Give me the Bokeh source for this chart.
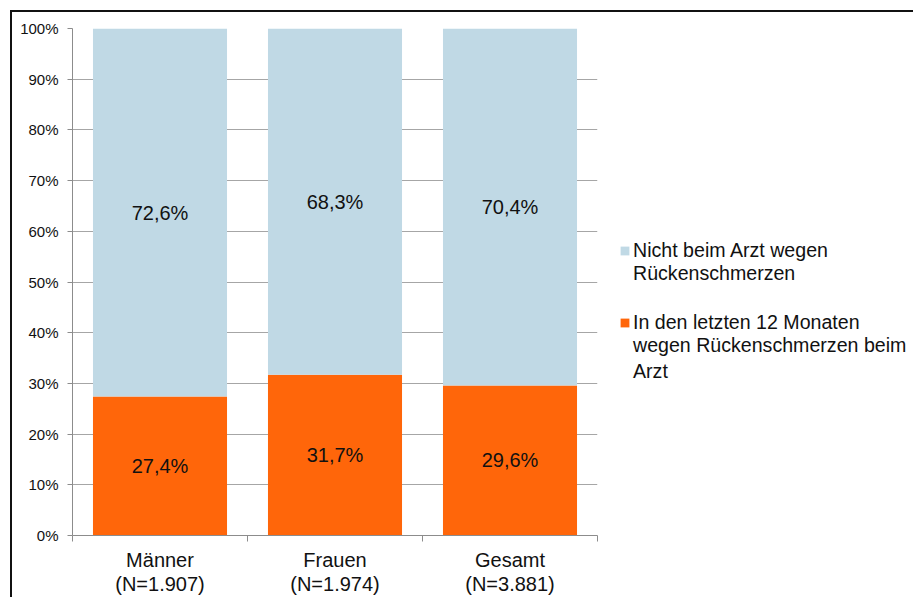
from bokeh.plotting import figure
from bokeh.models import (Range1d, FixedTicker, PrintfTickFormatter, Legend, LegendItem,
                          ColumnDataSource)
from bokeh.core.properties import value
from bokeh.embed import file_html
from bokeh.resources import INLINE

categories = ["Männer\n(N=1.907)", "Frauen\n(N=1.974)", "Gesamt\n(N=3.881)"]
arzt = [27.4, 31.7, 29.6]          # In den letzten 12 Monaten wegen Rückenschmerzen beim Arzt
nicht_arzt = [72.6, 68.3, 70.4]    # Nicht beim Arzt wegen Rückenschmerzen
series_labels = ["Nicht beim Arzt wegen\nRückenschmerzen",
                 "In den letzten 12 Monaten\nwegen Rückenschmerzen beim\nArzt"]
y_ticks = [0, 10, 20, 30, 40, 50, 60, 70, 80, 90, 100]

ORANGE = "#FF660A"
BLUE = "#C0D9E5"
FONT = "Liberation Sans"

xs = [i + 0.5 for i in range(len(categories))]
src = ColumnDataSource(dict(
    x=xs, arzt=arzt, nicht=nicht_arzt,
    top=[a + n for a, n in zip(arzt, nicht_arzt)],
    y_arzt=[a / 2 for a in arzt],
    y_nicht=[a + n / 2 for a, n in zip(arzt, nicht_arzt)],
    t_arzt=[f"{a:.1f}".replace(".", ",") + "%" for a in arzt],
    t_nicht=[f"{n:.1f}".replace(".", ",") + "%" for n in nicht_arzt],
))

p = figure(frame_width=525, frame_height=507, output_backend="svg", toolbar_location=None,
           x_range=Range1d(0, len(categories)), y_range=Range1d(0, 100),
           min_border_left=60, min_border_right=300, min_border_top=16, min_border_bottom=40)
p.styles = {"border-top": "2px solid #111", "border-left": "2px solid #111",
            "margin-top": "10px", "margin-left": "10px"}
p.outline_line_color = None
p.background_fill_color = "white"
p.border_fill_color = "white"

r_arzt = p.vbar(x="x", bottom=0, top="arzt", width=0.766, source=src,
                fill_color=ORANGE, line_color=None)
r_nicht = p.vbar(x="x", bottom="arzt", top="top", width=0.766, source=src,
                 fill_color=BLUE, line_color=None)
# invisible renderer for continuation lines of wrapped legend labels
r_blank = p.vbar(x=[], top=[], width=0.5, fill_alpha=0, line_alpha=0)

p.text(x="x", y="y_arzt", text="t_arzt", source=src, text_align="center",
       text_baseline="middle", text_font=value(FONT), text_font_size="20px", text_color="#111")
p.text(x="x", y="y_nicht", text="t_nicht", source=src, text_align="center",
       text_baseline="middle", text_font=value(FONT), text_font_size="20px", text_color="#111")

# y axis
p.yaxis.ticker = FixedTicker(ticks=y_ticks)
p.yaxis.formatter = PrintfTickFormatter(format="%d%%")
p.yaxis.axis_line_color = "#8c8c8c"
p.yaxis.major_tick_line_color = "#8c8c8c"
p.yaxis.major_tick_out = 5
p.yaxis.major_tick_in = 0
p.yaxis.minor_tick_line_color = None
p.yaxis.major_label_standoff = 9
p.yaxis.major_label_text_font = FONT
p.yaxis.major_label_text_font_size = "15px"
p.yaxis.major_label_text_color = "#111"

# x axis
p.xaxis.ticker = FixedTicker(ticks=xs, minor_ticks=list(range(len(categories) + 1)))
p.xaxis.major_label_overrides = {x: c for x, c in zip(xs, categories)}
p.xaxis.axis_line_color = "#8c8c8c"
p.xaxis.major_tick_line_color = None
p.xaxis.major_tick_out = 0
p.xaxis.major_tick_in = 0
p.xaxis.minor_tick_line_color = "#8c8c8c"
p.xaxis.minor_tick_out = 6
p.xaxis.minor_tick_in = 0
p.xaxis.major_label_standoff = 7
p.xaxis.major_label_text_font = FONT
p.xaxis.major_label_text_font_size = "20px"
p.xaxis.major_label_text_line_height = 1.1
p.xaxis.major_label_text_color = "#111"

p.xgrid.grid_line_color = None
p.ygrid.ticker = FixedTicker(ticks=y_ticks)
p.ygrid.grid_line_color = "#a6a6a6"
p.ygrid.grid_line_width = 1


def legend_items(label, renderer):
    # first two lines in one item, padded with a blank line above so that the
    # square sits beside the first line; any further lines follow as plain rows
    lines = label.split("\n")
    items = [LegendItem(label=" \n" + lines[0] + "\n" + lines[1], renderers=[renderer])]
    items += [LegendItem(label=ln, renderers=[r_blank]) for ln in lines[2:]]
    return items


legend = Legend(items=legend_items(series_labels[0], r_nicht) + legend_items(series_labels[1], r_arzt),
                location=(22, 152), orientation="vertical",
                glyph_width=11, glyph_height=11, label_standoff=3, spacing=3,
                padding=0, margin=0, border_line_color=None, background_fill_alpha=0,
                label_text_font=FONT, label_text_font_size="19.6px",
                label_text_line_height=1.15, label_text_color="#111")
p.add_layout(legend, "right")

open("out.html", "w").write(file_html(p, INLINE))
